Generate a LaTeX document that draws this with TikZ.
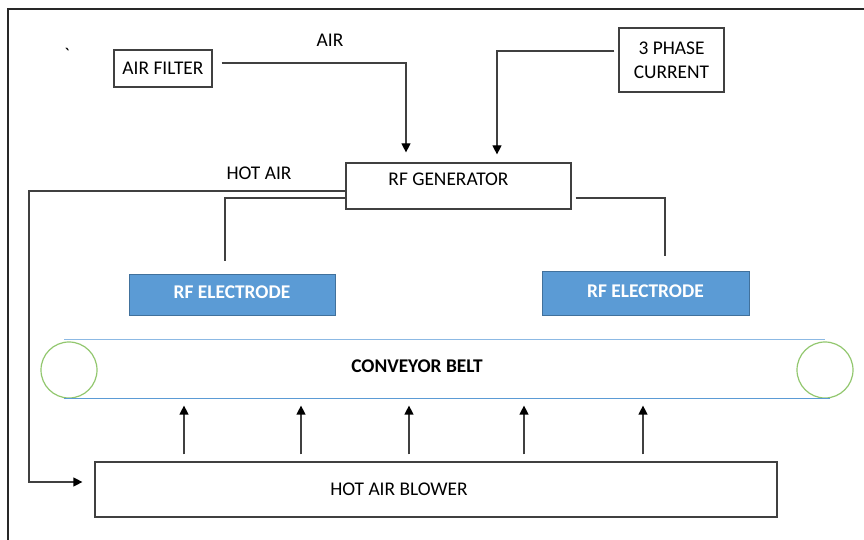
\documentclass[tikz,border=0pt]{standalone}
\usepackage{fontspec}
\setmainfont{Carlito}
\usepackage{tikz}
\usetikzlibrary{arrows.meta, positioning, calc}
\definecolor{framegray}{RGB}{40,40,40}
\definecolor{boxgray}{RGB}{64,64,64}
\definecolor{electrodeblue}{RGB}{91,155,213}
\definecolor{electrodeedge}{RGB}{65,113,156}
\definecolor{beltblue}{RGB}{140,185,228}
\definecolor{rollergreen}{RGB}{146,199,110}

\begin{document}
\begin{tikzpicture}[
  x=0.5pt, y=-0.5pt,
  font=\fontsize{9.7}{11.6}\selectfont,
  block/.style={rectangle, draw=boxgray, line width=0.6pt,
    inner sep=0pt, align=center},
  electrode/.style={rectangle, draw=electrodeedge, fill=electrodeblue,
    line width=0.5pt, text=white, inner sep=0pt, text depth=3pt,
    font=\fontsize{9.7}{11.6}\selectfont\bfseries},
  roller/.style={circle, draw=rollergreen, line width=0.6pt,
    minimum size=28pt, inner sep=0pt},
  belt/.style={line width=0.75pt},
  wire/.style={draw=boxgray, line width=0.6pt},
  arrow/.style={wire, -{Triangle[length=4.5pt,width=4.5pt,fill=black,color=black]}},
  tag/.style={inner sep=0pt}
]
\useasboundingbox (0,0) rectangle (864,540);
\draw[framegray, line width=0.75pt] (8,540) -- (8,9) -- (864,9);

% supply side
\node[tag] (tick) at (67,55) {\textasciigrave};
\node[block, minimum width=49pt, minimum height=18.5pt]
  (airfilter) at (163,68.5) {AIR FILTER};
\node[tag] (air) at (330,40) {AIR};
\node[block, minimum width=52.5pt, minimum height=32pt,
      font=\fontsize{9.7}{12}\selectfont]
  (phase) at (671.5,60) {3 PHASE\\CURRENT};
\node[block, minimum width=112.5pt, minimum height=23pt,
      label={[xshift=-5pt, yshift=3.5pt]center:RF GENERATOR}]
  (rfgen) at (458.5,186) {};
\node[tag] (hotair) at (259,173) {HOT AIR};

% electrodes and belt
\node[electrode, minimum width=103pt, minimum height=20.5pt]
  (elecL) at (232,295.5) {RF ELECTRODE};
\node[electrode, minimum width=103.5pt, minimum height=22pt]
  (elecR) at (645.5,294) {RF ELECTRODE};
\node[roller] (rollerL) at (69,370) {};
\node[roller] (rollerR) at (825,370) {};
\node[tag, font=\fontsize{9.7}{11.6}\selectfont\bfseries]
  (beltlabel) at (417,366) {CONVEYOR BELT};
\node[block, minimum width=341pt, minimum height=27.5pt,
      label={[xshift=-18.5pt]center:HOT AIR BLOWER}]
  (blower) at (436,489.5) {};

\draw[belt, draw=beltblue]
  ([xshift=-2.5pt, yshift=1pt]rollerL.north) -- ([yshift=1pt]rollerR.north);
\draw[belt, draw=electrodeblue]
  ([xshift=-2.5pt]rollerL.south) -- ([xshift=2.5pt]rollerR.south);

% connectors
\draw[arrow, shorten <=4.5pt, shorten >=5pt]
  ([yshift=2.75pt]airfilter.east) -| ([xshift=-26.25pt]rfgen.north);
\draw[arrow, shorten <=2pt, shorten >=4pt]
  ([yshift=4.5pt]phase.west) -| ([xshift=19.25pt]rfgen.north);
\coordinate (hotbend) at (29,191);
\draw[arrow, shorten >=6pt]
  ([yshift=-2.5pt]rfgen.west) -- (hotbend) |- ([yshift=3.75pt]blower.west);
\draw[wire, shorten >=6.5pt]
  ([yshift=-6pt]rfgen.west) -| ([xshift=-3.5pt]elecL.north);
\draw[wire, shorten <=2pt, shorten >=7.5pt]
  ([yshift=-6pt]rfgen.east) -| ([xshift=9.75pt]elecR.north);
\foreach \x in {184,301,409,524,643}
  \draw[arrow, shorten <=3.5pt, shorten >=3.5pt]
    (\x,0 |- blower.north) -- (\x,0 |- rollerL.south);
\end{tikzpicture}
\end{document}
